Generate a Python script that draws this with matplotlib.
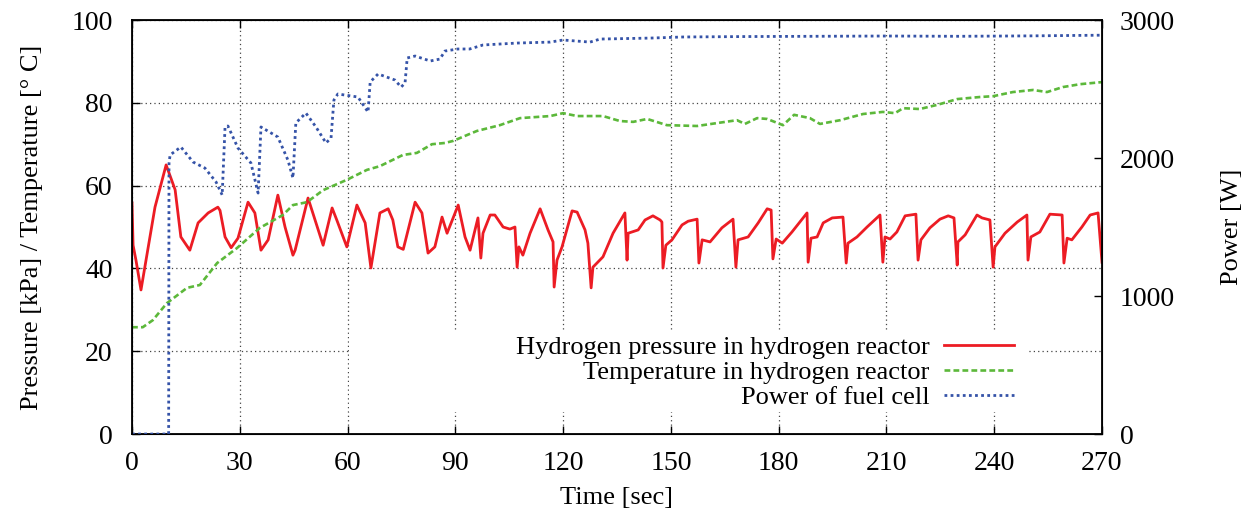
import matplotlib.pyplot as plt
from matplotlib.patches import Rectangle

plt.rcParams['font.family'] = ['Liberation Serif', 'DejaVu Serif']
plt.rcParams['font.size'] = 19

# Hydrogen pressure in hydrogen reactor [kPa]
t_press = [0, 0.3, 1.1, 2.5, 4.5, 6.4, 9.5, 12, 13.6, 16.1, 18.4, 21.2, 23.9, 24.5, 25.9,
           27.6, 29.5, 32.3, 34.2, 35.9, 37.9, 40.6, 42.6, 44.8, 45.4, 49, 53.2, 55.7, 57,
           59.8, 62.6, 64.9, 66.5, 69, 71.3, 72.6, 74, 75.5, 78.8, 80.7, 82.4, 84.3, 86.3,
           87.7, 90.8, 92.7, 94.1, 95.5, 96.3, 97.1, 97.7, 99.7, 101, 103.3, 105.2, 106.6,
           107.2, 107.7, 108.8, 110.8, 113.6, 115.8, 117.2, 117.5, 118.3, 119.7, 122.5,
           123.9, 126.1, 126.9, 127.8, 128.3, 131.1, 133.9, 137.2, 137.8, 138.1, 140.9,
           142.8, 145, 147, 147.5, 147.8, 148.6, 150.3, 153.1, 154.8, 157.3, 157.8, 158.7,
           160.9, 164.2, 167.3, 168.1, 168.7, 171.5, 174.3, 176.8, 177.9, 178.4, 179.3,
           181, 183.7, 187.9, 188.2, 189, 190.7, 192.4, 194.9, 197.9, 198.8, 199.3, 201.8,
           204.6, 208.2, 209, 209.6, 211, 212.9, 215.2, 218.2, 218.8, 219.6, 222.1, 224.9,
           227.2, 228.8, 229.7, 229.9, 231.9, 235.2, 236.6, 238.8, 239.7, 240.2, 243,
           246.4, 249.1, 249.4, 250.2, 252.7, 255.5, 258.9, 259.4, 260.3, 261.6, 264.4,
           266.7, 268.9, 270]
pressure = [55.8, 45.6, 42, 34.8, 45, 54.8, 65, 59, 47.6, 44.4, 51, 53.4, 54.8, 54, 47.6,
            45, 47.3, 56, 53.4, 44.4, 46.9, 57.7, 50, 43.2, 44.4, 57, 45.6, 54.6, 51.7,
            45.2, 55.3, 51, 40.1, 53.4, 54.4, 51.7, 45.2, 44.6, 56, 53.4, 43.7, 45.2, 52.4,
            48.5, 55.3, 47.6, 44.4, 49.3, 52.2, 42.5, 48.5, 52.9, 52.9, 50, 49.5, 50,
            40.3, 45.2, 43.2, 48.5, 54.4, 49.3, 46.4, 35.5, 42, 45.2, 53.9,
            53.6, 49.3, 46.1, 35.3, 40.3, 42.8, 48.5, 53.4, 42, 48.5, 49.3,
            51.7, 52.7, 51.7, 51.2, 40.1, 45.6, 46.9, 50.5, 51.4, 51.9, 41.3, 46.9,
            46.4, 49.8, 51.9, 40.3, 46.9, 47.6, 51, 54.4, 54.1, 42.3, 47.1,
            46.1, 48.8, 53.4, 41.5, 47.3, 47.6, 51, 52.2, 52.4, 41.3, 46.1, 47.6,
            50, 52.9, 41.5, 47.6, 47.1, 48.8, 52.7, 53.1, 42, 46.9, 49.8, 51.9,
            52.7, 52.2, 40.8, 46.4, 48.1, 52.9, 52.2, 51.7, 40.3, 45.2, 48.5,
            51.2, 52.9, 42, 47.6, 48.8, 53.1, 52.9, 41.3, 47.3, 46.9, 50,
            52.9, 53.4, 41.5]

# Temperature in hydrogen reactor [deg C]
t_temp = [0, 3, 5.8, 9.7, 15.3, 18.9, 23.7, 29.2, 35.6, 42, 44.8, 48.7, 53.2, 59.8, 65.4,
          69, 75.4, 79.3, 83.5, 87.1, 89.4, 93.5, 96, 102.4, 108, 116.4, 120, 123.9, 131.1,
          135.8, 139.5, 143.4, 148.9, 157.3, 162.8, 168.4, 170.6, 174, 176.8, 181.2, 184.3,
          188.7, 191.5, 197.1, 203.5, 209, 212.4, 214.6, 219.3, 224.1, 229.7, 236, 239.7,
          245.2, 250.8, 254.7, 259.1, 263.9, 270]
temperature = [25.8, 25.8, 27.5, 31.6, 35.3, 36, 41.3, 44.9, 49.8, 52.9, 55.3, 56, 58.9,
               61.4, 63.8, 64.7, 67.4, 67.9, 70, 70.3, 70.8, 72.3, 73.2, 74.6, 76.3, 76.8,
               77.5, 76.8, 76.8, 75.6, 75.4, 76.1, 74.6, 74.4, 75.1, 75.8, 74.9, 76.3, 76.1,
               74.6, 77.1, 76.3, 74.9, 75.8, 77.3, 77.8, 77.5, 78.7, 78.5, 79.5, 80.9, 81.4,
               81.6, 82.6, 83.1, 82.6, 83.8, 84.5, 85]

# Power of fuel cell [W]
t_power = [0, 10.2, 10.3, 10.6, 13.6, 17, 20.3, 23.4, 25.1, 25.9, 26.7, 29.5, 33.1, 35.1,
           35.9, 40.6, 43.4, 44.8, 45.6, 48.4, 51.2, 54, 55.4, 56.2, 57.3, 62.9, 65.7, 66.3,
           68.5, 73.2, 74.9, 76, 76.6, 78.8, 83, 85.7, 87.1, 90.7, 94, 97.7, 107.2, 116.4,
           120, 127.5, 130.3, 144.2, 153.4, 170, 190, 210, 230, 250, 270]
power = [0, 0, 1960, 2022, 2080, 1971, 1927, 1826, 1732, 2225, 2232, 2072, 1964, 1746,
         2225, 2152, 1985, 1855, 2254, 2326, 2225, 2109, 2145, 2420, 2464, 2442, 2333, 2551,
         2609, 2565, 2514, 2543, 2725, 2739, 2703, 2717, 2775, 2790, 2790, 2819, 2833, 2840,
         2855, 2840, 2862, 2869, 2877, 2880, 2882, 2884, 2882, 2885, 2890]

x_ticks = [0, 30, 60, 90, 120, 150, 180, 210, 240, 270]

fig = plt.figure(figsize=(12.5, 5.17), dpi=100)
ax = fig.add_axes([0.1056, 0.1605, 0.776, 0.8008])
ax2 = ax.twinx()

ax.set_xlim(0, 270)
ax.set_ylim(0, 100)
ax2.set_ylim(0, 3000)
ax.set_xticks(x_ticks)
ax.set_yticks([0, 20, 40, 60, 80, 100])
ax2.set_yticks([0, 1000, 2000, 3000])

ax.grid(True, color='#444444', linestyle=(0, (1, 2.5)), linewidth=0.9)
ax.set_axisbelow(True)
ax.tick_params(direction='in', length=6, width=1, top=True, labelsize=20)
ax.tick_params(axis='x', pad=12)
ax.tick_params(axis='y', pad=14)
ax2.tick_params(direction='in', length=6, width=1, pad=13, labelsize=20)
for sp in ax.spines.values():
    sp.set_linewidth(1.3)

# opaque key box like gnuplot
ax.add_patch(Rectangle((0.224, 0.053), 0.7, 0.198, transform=ax.transAxes,
                       facecolor='white', edgecolor='none', zorder=0.8))

l1, = ax.plot(t_press, pressure, color='#ec1c24', lw=2.0, label='Hydrogen pressure in hydrogen reactor')
l2, = ax.plot(t_temp, temperature, color='#5cb83a', lw=1.9, linestyle=(0, (2.2, 1.2)),
              label='Temperature in hydrogen reactor')
l3, = ax2.plot(t_power, power, color='#3553a8', lw=2.0, linestyle=(0, (1, 1.2)),
               label='Power of fuel cell')

ax.set_xlabel('Time [sec]', labelpad=8)
ax.set_ylabel('Pressure [kPa] / Temperature [° C]', labelpad=20)
ax2.set_ylabel('Power [W]', labelpad=33)

ax2.legend(handles=[l1, l2, l3], loc='lower right', bbox_to_anchor=(0.909, 0.06),
           frameon=False, markerfirst=False, alignment='right', handlelength=2.65,
           handletextpad=0.55, labelspacing=0.06, fontsize=19, borderpad=0,
           borderaxespad=0)

fig.savefig('out.png', dpi=100)
